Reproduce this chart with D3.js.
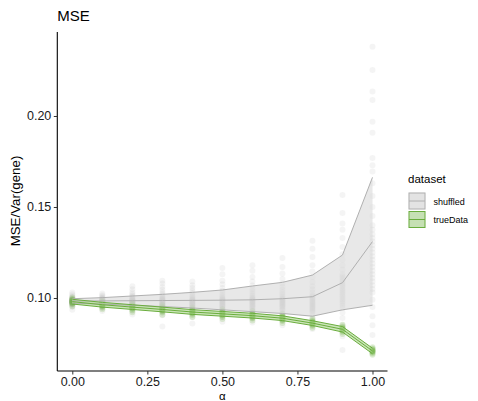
<!DOCTYPE html>
<html><head><meta charset="utf-8">
<script src="https://cdn.jsdelivr.net/npm/d3@7/dist/d3.min.js"></script>
<style>body{margin:0;background:#fff}text{font-family:"Liberation Sans",Arial,Helvetica,sans-serif}</style>
</head><body>
<svg id="c" width="478" height="401"></svg>
<script>
const alphas = [0, 0.1, 0.2, 0.3, 0.4, 0.5, 0.6, 0.7, 0.8, 0.9, 1.0];
const xTicks = [0, 0.25, 0.5, 0.75, 1.0];
const yTicks = [0.10, 0.15, 0.20];

// summary lines (mean and band)
const shuffledMean  = [0.0984, 0.0984, 0.0985, 0.0986, 0.0987, 0.0988, 0.0990, 0.0996, 0.1007, 0.1084, 0.1310];
const shuffledUpper = [0.0996, 0.1002, 0.1011, 0.1020, 0.1031, 0.1044, 0.1066, 0.1086, 0.1126, 0.1236, 0.1663];
const shuffledLower = [0.0972, 0.0966, 0.0960, 0.0953, 0.0945, 0.0935, 0.0925, 0.0915, 0.0900, 0.0935, 0.0960];
const trueMean  = [0.0980, 0.0963, 0.0950, 0.0937, 0.0923, 0.0913, 0.0903, 0.0889, 0.0862, 0.0828, 0.0709];
const trueHalf  = [0.0013, 0.0013, 0.0013, 0.0013, 0.0013, 0.0013, 0.0013, 0.0013, 0.0013, 0.0015, 0.0015];

// individual points per alpha
const shuffledPoints = [
 [0.0935,0.0950,0.0958,0.0963,0.0967,0.0970,0.0972,0.0973,0.0975,0.0976,0.0977,0.0978,0.0979,0.0980,0.0981,0.0982,0.0983,0.0984,0.0985,0.0986,0.0987,0.0988,0.0989,0.0990,0.0992,0.0993,0.0996,0.1000,0.1005,0.1012,0.1020,0.1030],
 [0.0928,0.0945,0.0955,0.0960,0.0965,0.0968,0.0970,0.0972,0.0974,0.0975,0.0977,0.0978,0.0980,0.0981,0.0983,0.0984,0.0986,0.0988,0.0989,0.0991,0.0992,0.0995,0.0998,0.1002,0.1008,0.1015,0.1025],
 [0.0910,0.0930,0.0945,0.0952,0.0958,0.0963,0.0966,0.0968,0.0970,0.0972,0.0974,0.0976,0.0978,0.0980,0.0982,0.0984,0.0986,0.0988,0.0990,0.0992,0.0994,0.0996,0.1001,0.1006,0.1012,0.1020,0.1032,0.1048,0.1065],
 [0.0843,0.0905,0.0925,0.0940,0.0950,0.0957,0.0960,0.0963,0.0966,0.0968,0.0971,0.0973,0.0976,0.0978,0.0981,0.0983,0.0986,0.0988,0.0991,0.0993,0.0996,0.0999,0.1005,0.1012,0.1020,0.1030,0.1045,0.1060,0.1080,0.1095],
 [0.0860,0.0895,0.0920,0.0935,0.0945,0.0953,0.0957,0.0960,0.0963,0.0966,0.0969,0.0972,0.0975,0.0978,0.0981,0.0984,0.0987,0.0990,0.0993,0.0996,0.1003,0.1010,0.1018,0.1027,0.1040,0.1055,0.1070,0.1090],
 [0.0870,0.0895,0.0915,0.0930,0.0940,0.0945,0.0950,0.0954,0.0958,0.0962,0.0965,0.0969,0.0972,0.0976,0.0979,0.0983,0.0986,0.0990,0.0993,0.0997,0.1000,0.1008,0.1017,0.1027,0.1040,0.1055,0.1075,0.1095,0.1130,0.1165],
 [0.0865,0.0890,0.0910,0.0925,0.0937,0.0942,0.0947,0.0952,0.0956,0.0960,0.0964,0.0968,0.0972,0.0976,0.0980,0.0984,0.0988,0.0992,0.0996,0.1000,0.1005,0.1014,0.1025,0.1037,0.1050,0.1068,0.1090,0.1115,0.1150,0.1180],
 [0.0850,0.0878,0.0900,0.0918,0.0932,0.0938,0.0944,0.0950,0.0955,0.0960,0.0964,0.0969,0.0973,0.0978,0.0982,0.0987,0.0991,0.0996,0.1000,0.1010,0.1020,0.1032,0.1045,0.1060,0.1080,0.1105,0.1135,0.1170,0.1220],
 [0.0830,0.0860,0.0885,0.0905,0.0920,0.0927,0.0933,0.0939,0.0945,0.0950,0.0956,0.0961,0.0967,0.0972,0.0978,0.0984,0.0990,0.0996,0.1002,0.1008,0.1015,0.1030,0.1047,0.1065,0.1088,0.1115,0.1145,0.1180,0.1225,0.1270,0.1315],
 [0.0714,0.0790,0.0850,0.0890,0.0920,0.0945,0.0958,0.0970,0.0980,0.0990,0.1000,0.1010,0.1020,0.1030,0.1040,0.1050,0.1060,0.1070,0.1080,0.1090,0.1100,0.1110,0.1120,0.1130,0.1155,0.1180,0.1210,0.1240,0.1280,0.1330,0.1375,0.1410,0.1467,0.1566],
 [0.0797,0.0850,0.0900,0.0950,0.0990,0.1030,0.1050,0.1070,0.1090,0.1110,0.1130,0.1150,0.1170,0.1190,0.1210,0.1230,0.1250,0.1270,0.1290,0.1310,0.1330,0.1350,0.1375,0.1400,0.1450,0.1500,0.1560,0.1630,0.1695,0.1730,0.1769,0.1908,0.1969,0.2088,0.2134,0.2253,0.2380]
];
const truePoints = [
 [0.0955,0.0965,0.0970,0.0974,0.0977,0.0980,0.0983,0.0986,0.0990,0.0995,0.1003],
 [0.0938,0.0948,0.0953,0.0957,0.0960,0.0963,0.0966,0.0969,0.0973,0.0978,0.0986],
 [0.0922,0.0933,0.0940,0.0944,0.0947,0.0950,0.0953,0.0956,0.0960,0.0965,0.0974],
 [0.0908,0.0920,0.0927,0.0931,0.0934,0.0937,0.0940,0.0943,0.0947,0.0952,0.0962],
 [0.0895,0.0906,0.0913,0.0917,0.0920,0.0923,0.0926,0.0929,0.0933,0.0938,0.0948],
 [0.0885,0.0896,0.0903,0.0907,0.0910,0.0913,0.0916,0.0919,0.0923,0.0928,0.0938],
 [0.0876,0.0887,0.0893,0.0897,0.0900,0.0903,0.0906,0.0909,0.0913,0.0918,0.0928],
 [0.0862,0.0873,0.0879,0.0883,0.0886,0.0889,0.0892,0.0895,0.0899,0.0904,0.0914],
 [0.0836,0.0846,0.0852,0.0856,0.0859,0.0862,0.0865,0.0868,0.0872,0.0877,0.0887],
 [0.0802,0.0812,0.0818,0.0822,0.0825,0.0828,0.0831,0.0834,0.0838,0.0843,0.0853],
 [0.0688,0.0695,0.0700,0.0704,0.0707,0.0709,0.0711,0.0714,0.0718,0.0722,0.0730]
];

const svg = d3.select("#c");
const x = d3.scaleLinear().domain([-0.05, 1.05]).range([57.3, 387.5]);
const y = d3.scaleLinear().domain([0.05989, 0.24615]).range([371, 32]);

const grey = "#bdbdbd", greyLine = "#b0b0b0", greyFill = "#d9d9d9";
const green = "#6aad3d", greenFill = "#a9d48a";

// points
const gp = svg.append("g");
shuffledPoints.forEach((vals, i) => {
  gp.selectAll(null).data(vals).enter().append("circle")
    .attr("cx", x(alphas[i])).attr("cy", d => y(d)).attr("r", 3)
    .attr("fill", grey).attr("fill-opacity", 0.16);
});
truePoints.forEach((vals, i) => {
  gp.selectAll(null).data(vals).enter().append("circle")
    .attr("cx", x(alphas[i])).attr("cy", d => y(d)).attr("r", 3)
    .attr("fill", green).attr("fill-opacity", 0.2);
});

// ribbons
const shuf = alphas.map((a, i) => ({a, m: shuffledMean[i], lo: shuffledLower[i], hi: shuffledUpper[i]}));
const tru = alphas.map((a, i) => ({a, m: trueMean[i], lo: trueMean[i] - trueHalf[i], hi: trueMean[i] + trueHalf[i]}));
const area = d3.area().x(d => x(d.a)).y0(d => y(d.lo)).y1(d => y(d.hi));
svg.append("path").datum(shuf).attr("d", area).attr("fill", greyFill).attr("fill-opacity", 0.6);
svg.append("path").datum(tru).attr("d", area).attr("fill", greenFill).attr("fill-opacity", 0.6);

const line = k => d3.line().x(d => x(d.a)).y(d => y(d[k]));
["hi", "m", "lo"].forEach(k => {
  svg.append("path").datum(shuf).attr("d", line(k)).attr("fill", "none").attr("stroke", greyLine).attr("stroke-width", 1);
});
["hi", "m", "lo"].forEach(k => {
  svg.append("path").datum(tru).attr("d", line(k)).attr("fill", "none").attr("stroke", green).attr("stroke-width", 1);
});

// axes
const xAxis = svg.append("g").attr("transform", "translate(0,371)")
  .call(d3.axisBottom(x).tickValues(xTicks).tickFormat(d3.format(".2f")).tickSizeOuter(0).tickSize(3.5).tickPadding(2.5));
const yAxis = svg.append("g").attr("transform", "translate(57.3,0)")
  .call(d3.axisLeft(y).tickValues(yTicks).tickFormat(d3.format(".2f")).tickSizeOuter(0).tickSize(3.5).tickPadding(2.5));
[xAxis, yAxis].forEach(g => {
  g.select(".domain").attr("stroke", "#000").attr("stroke-width", 1.1);
  g.selectAll(".tick line").attr("stroke", "#333");
  g.selectAll(".tick text").attr("fill", "#1a1a1a").style("font-size", "12.5px").style("font-family", "Liberation Sans, Arial, sans-serif");
});
xAxis.select(".domain").attr("d", "M57.3,0H387.5");
yAxis.select(".domain").attr("d", "M0,32V371");

// labels
svg.append("text").attr("x", 57.3).attr("y", 20.7).attr("font-size", 15).attr("fill", "#000").text("MSE");
svg.append("text").attr("x", 222.4).attr("y", 400).attr("text-anchor", "middle").attr("font-size", 11.5).attr("fill", "#000").text("α");
svg.append("text").attr("transform", "translate(19.5,201) rotate(-90)").attr("text-anchor", "middle").attr("font-size", 13.3).attr("fill", "#000").text("MSE/Var(gene)");

// legend
const lg = svg.append("g");
lg.append("text").attr("x", 408).attr("y", 183).attr("font-size", 11.5).attr("fill", "#000").text("dataset");
const legendItems = [
  {name: "shuffled", fill: greyFill, stroke: greyLine},
  {name: "trueData", fill: greenFill, stroke: green}
];
legendItems.forEach((it, i) => {
  const y0 = 192.5 + i * 18.5;
  lg.append("rect").attr("x", 408.5).attr("y", y0).attr("width", 17).attr("height", 17)
    .attr("fill", "#f2f2f2");
  lg.append("rect").attr("x", 409).attr("y", y0 + 0.5).attr("width", 16).attr("height", 16)
    .attr("fill", it.fill).attr("fill-opacity", 0.6).attr("stroke", it.stroke).attr("stroke-width", 1);
  lg.append("line").attr("x1", 409).attr("x2", 425).attr("y1", y0 + 8.5).attr("y2", y0 + 8.5)
    .attr("stroke", it.stroke).attr("stroke-width", 1);
  lg.append("text").attr("x", 433.5).attr("y", y0 + 12).attr("font-size", 9).attr("fill", "#000").text(it.name);
});
</script>
</body></html>
